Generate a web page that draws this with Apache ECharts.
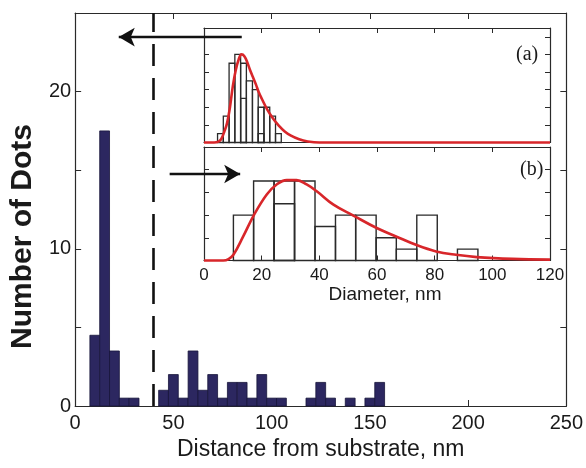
<!DOCTYPE html>
<html><head><meta charset="utf-8">
<script src="https://cdn.jsdelivr.net/npm/echarts@6/dist/echarts.min.js"></script>
<style>html,body{margin:0;padding:0;background:#fff}#c{width:586px;height:468px}</style>
</head><body><div id="c"></div>
<script>
// ---- Main histogram: number of dots vs distance from substrate (bin width 5 nm)
const mainBinWidth = 5;
const mainCenters = [10, 15, 20, 25, 30, 45, 50, 55, 60, 65, 70, 75, 80, 85, 90, 95, 100, 105, 120, 125, 130, 140, 150, 155];
const mainCounts  = [4.5, 17.5, 3.5, 0.5, 0.5, 1, 2, 0.5, 3.5, 1, 2, 0.5, 1.5, 1.5, 0.5, 2, 0.5, 0.5, 0.5, 1.5, 0.5, 0.5, 0.5, 1.5];
const mainXTicks = [0, 50, 100, 150, 200, 250];
const mainYTicks = [0, 10, 20];
const dashedAt = 40;
// annotation arrows (data units of the main axes): [xFrom, xTo, y]
const arrowLeft  = [84.8, 22.2, 23.47];
const arrowRight = [48.1, 84.0, 14.76];

// ---- Inset (a): diameter distribution (bin edges, counts)
const aEdges  = [4.7, 6.7, 8.7, 10.7, 12.7, 14.7, 16.8, 18.8, 20.8, 22.8, 24.8, 26.8];
const aCounts = [0.5, 1.5, 4.5, 5, 4.5, 3.5, 3, 2, 2, 1.5, 0.5];
const aInner  = [[4, 2.5], [7, 0.5]];
const aFitX = [0, 3.5, 5, 6, 7, 8, 9, 10, 11, 12, 13, 14, 15, 16, 17, 18, 19, 20, 22, 24, 26, 28, 30, 33, 36, 40, 120];
const aFitY = [0, 0, 0.05, 0.2, 0.6, 1.1, 2.0, 3.2, 4.1, 4.7, 5.0, 4.9, 4.55, 4.1, 3.7, 3.3, 2.85, 2.5, 1.85, 1.35, 0.95, 0.62, 0.4, 0.18, 0.06, 0, 0];

// ---- Inset (b)
const bEdges  = [10.2, 17.2, 24.3, 31.4, 38.5, 45.6, 52.6, 59.7, 66.7, 73.8, 80.9, 87.9, 95.0];
const bCounts = [2, 3.5, 3.5, 3.5, 1.5, 2, 2, 1, 0.5, 2, 0, 0.5];
const bInner  = [[2, 2.5]];
const bFitX = [0, 6.7, 8.5, 10.2, 13.6, 17.3, 21.7, 25.2, 28.7, 32.1, 35.6, 39.1, 44.9, 51.8, 59.9, 66.6, 73.5, 80.5, 87.4, 94.6, 107, 120];
const bFitY = [0, 0, 0.06, 0.25, 1.06, 2.0, 2.9, 3.35, 3.54, 3.54, 3.35, 3.05, 2.46, 1.98, 1.43, 1.06, 0.69, 0.4, 0.25, 0.15, 0.07, 0.04];
const insetXTicks = [0, 20, 40, 60, 80, 100, 120];

const FONT = 'Liberation Sans';
const TXT = '#1a1a1a';
const FRAME = '#2a2a2a';
const RED = '#d8262a';

function histRender(fill, stroke, lw) {
  return function (params, api) {
    const p0 = api.coord([api.value(0), api.value(2)]);
    const p1 = api.coord([api.value(1), 0]);
    return { type: 'rect', shape: { x: p0[0], y: p0[1], width: p1[0] - p0[0], height: p1[1] - p0[1] },
      style: { fill: fill, stroke: stroke, lineWidth: lw } };
  };
}
const mainData = mainCenters.map((c, i) => [c - mainBinWidth / 2, c + mainBinWidth / 2, mainCounts[i]]);
const aData = aCounts.map((h, i) => [aEdges[i], aEdges[i + 1], h]).filter(d => d[2] > 0);
const aInnerData = aInner.map(d => [aEdges[d[0]], aEdges[d[0] + 1], d[1]]);
const bData = bCounts.map((h, i) => [bEdges[i], bEdges[i + 1], h]).filter(d => d[2] > 0);
const bInnerData = bInner.map(d => [bEdges[d[0]], bEdges[d[0] + 1], d[1]]);

function frameX(gridIndex, pos, opts) {
  return Object.assign({
    type: 'value', gridIndex: gridIndex, position: pos,
    axisLine: { show: true, onZero: false, lineStyle: { color: FRAME, width: 1.2 } },
    axisTick: { show: true, inside: true, length: 5, lineStyle: { color: FRAME, width: 1 } },
    axisLabel: { show: false }, splitLine: { show: false }
  }, opts);
}

const insetLeft = 204, insetW = 346;
const option = {
  animation: false,
  backgroundColor: '#fff',
  title: [
    { text: '(a)', left: 511, top: 40, textStyle: { fontFamily: 'Liberation Serif', fontSize: 20, fontWeight: 'normal', color: TXT } },
    { text: '(b)', left: 515, top: 155, textStyle: { fontFamily: 'Liberation Serif', fontSize: 20, fontWeight: 'normal', color: TXT } }
  ],
  grid: [
    { left: 69, top: 13, right: 18, bottom: 62, show: false },
    { left: insetLeft, top: 28, width: insetW, height: 114.5, show: true, backgroundColor: '#fff', borderWidth: 0 },
    { left: insetLeft, top: 147, width: insetW, height: 113.5, show: true, backgroundColor: '#fff', borderWidth: 0 }
  ],
  xAxis: [
    frameX(0, 'bottom', { min: 0, max: 250, interval: 50, axisTick: { show: true, inside: true, length: 6, lineStyle: { color: FRAME } },
      axisLabel: { show: true, margin: 7, fontFamily: FONT, fontSize: 20, color: TXT,
        formatter: v => mainXTicks.indexOf(v) >= 0 ? String(v) : '' },
      name: 'Distance from substrate, nm', nameLocation: 'middle', nameGap: 30,
      nameTextStyle: { fontFamily: FONT, fontSize: 23, color: TXT } }),
    frameX(0, 'top', { min: 0, max: 250, interval: 50, axisTick: { show: true, inside: true, length: 6, lineStyle: { color: FRAME } } }),
    frameX(1, 'bottom', { min: 0, max: 120, interval: 20, axisTick: { show: false } }),
    frameX(1, 'top', { min: 0, max: 120, interval: 20 }),
    frameX(2, 'bottom', { min: 0, max: 120, interval: 20,
      axisLabel: { show: true, margin: 6, fontFamily: FONT, fontSize: 17, color: TXT,
        formatter: v => insetXTicks.indexOf(v) >= 0 ? String(v) : '' },
      name: 'Diameter, nm', nameLocation: 'middle', nameGap: 25,
      nameTextStyle: { fontFamily: FONT, fontSize: 19, color: TXT, padding: [0, 0, 0, 16] } }),
    frameX(2, 'top', { min: 0, max: 120, interval: 20 })
  ],
  yAxis: [
    frameX(0, 'left', { min: 0, max: 25, interval: 5, axisTick: { show: true, inside: true, length: 6, lineStyle: { color: FRAME } },
      axisLabel: { show: true, margin: 4, fontFamily: FONT, fontSize: 20, color: TXT,
        formatter: v => mainYTicks.indexOf(v) >= 0 ? String(v) : '' },
      name: 'Number of Dots', nameLocation: 'middle', nameGap: 30,
      nameTextStyle: { fontFamily: FONT, fontSize: 30, fontWeight: 'bold', color: TXT, padding: [0, 54, 0, 0] } }),
    frameX(0, 'right', { min: 0, max: 25, interval: 5, axisTick: { show: true, inside: true, length: 6, lineStyle: { color: FRAME } } }),
    frameX(1, 'left', { min: 0, max: 6.5, interval: 1 }),
    frameX(1, 'right', { min: 0, max: 6.5, interval: 1 }),
    frameX(2, 'left', { min: 0, max: 5, interval: 1 }),
    frameX(2, 'right', { min: 0, max: 5, interval: 1 })
  ],
  series: [
    { type: 'custom', xAxisIndex: 0, yAxisIndex: 0, data: mainData, renderItem: histRender('#2c2760', '#17143a', 0.8),
      encode: { x: [0, 1], y: 2 }, clip: false, z: 3,
      markLine: { silent: true, symbol: ['none', 'none'], label: { show: false }, animation: false,
        lineStyle: { color: '#111', width: 2.6, type: [22, 12] },
        data: [{ xAxis: dashedAt }] } },
    { type: 'line', xAxisIndex: 0, yAxisIndex: 0, data: [], z: 10,
      markLine: { silent: true, symbol: ['none', 'arrow'], symbolSize: [14, 16], label: { show: false }, animation: false,
        lineStyle: { color: '#111', width: 2.4, type: 'solid' },
        data: [
          [{ coord: [arrowLeft[0], arrowLeft[2]] }, { coord: [arrowLeft[1], arrowLeft[2]] }],
          [{ coord: [arrowRight[0], arrowRight[2]] }, { coord: [arrowRight[1], arrowRight[2]] }]
        ] } },
    { type: 'custom', xAxisIndex: 2, yAxisIndex: 2, data: aData, renderItem: histRender('rgba(0,0,0,0)', '#2a2a2a', 1.3), encode: { x: [0, 1], y: 2 }, clip: false },
    { type: 'custom', xAxisIndex: 2, yAxisIndex: 2, data: aInnerData, renderItem: histRender('rgba(0,0,0,0)', '#2a2a2a', 1.3), encode: { x: [0, 1], y: 2 }, clip: false },
    { type: 'line', xAxisIndex: 2, yAxisIndex: 2, data: aFitX.map((x, i) => [x, aFitY[i]]), showSymbol: false, smooth: 0.4,
      lineStyle: { color: RED, width: 2.6 }, clip: false, z: 4 },
    { type: 'custom', xAxisIndex: 4, yAxisIndex: 4, data: bData, renderItem: histRender('rgba(0,0,0,0)', '#2a2a2a', 1.4), encode: { x: [0, 1], y: 2 }, clip: false },
    { type: 'custom', xAxisIndex: 4, yAxisIndex: 4, data: bInnerData, renderItem: histRender('rgba(0,0,0,0)', '#2a2a2a', 1.4), encode: { x: [0, 1], y: 2 }, clip: false },
    { type: 'line', xAxisIndex: 4, yAxisIndex: 4, data: bFitX.map((x, i) => [x, bFitY[i]]), showSymbol: false, smooth: 0.4,
      lineStyle: { color: RED, width: 2.6 }, clip: false, z: 4 }
  ]
};
const chart = echarts.init(document.getElementById('c'), null, { renderer: 'canvas' });
chart.setOption(option);
</script>
</body></html>
